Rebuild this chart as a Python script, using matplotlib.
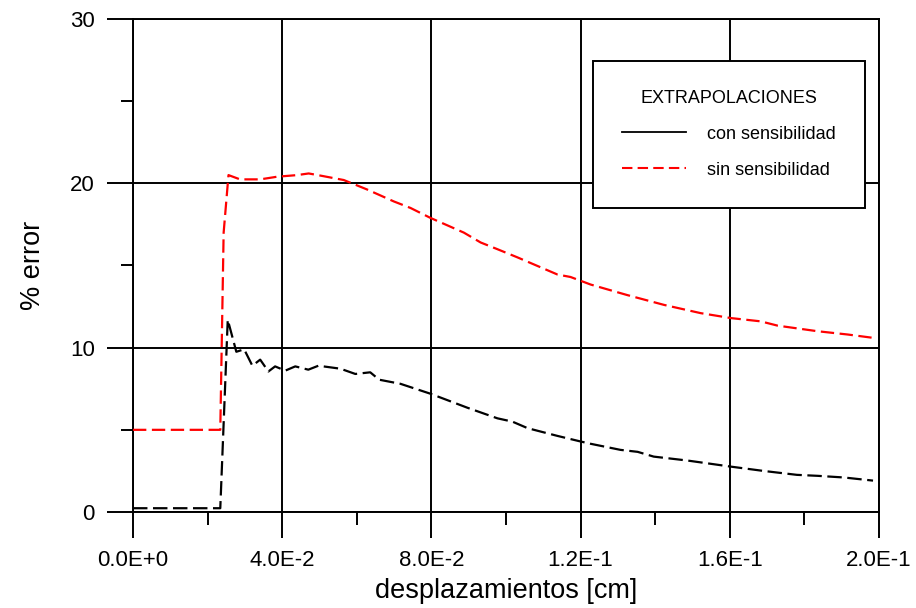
import numpy as np
import matplotlib
matplotlib.use("Agg")
import matplotlib.pyplot as plt
from matplotlib.lines import Line2D

plt.rcParams['font.family'] = ['Liberation Sans', 'DejaVu Sans']

# datos
x_con = [0.0, 0.0234, 0.0254, 0.0277, 0.0298, 0.0320, 0.0341, 0.0363, 0.0381,
         0.0408, 0.0435, 0.0470, 0.0497, 0.0556, 0.0596, 0.0636, 0.0660, 0.0717,
         0.0797, 0.0897, 0.0977, 0.1017, 0.1058, 0.1138, 0.1200, 0.1227, 0.1307,
         0.1353, 0.1396, 0.1487, 0.1603, 0.1690, 0.1780, 0.1836, 0.1906, 0.1984]
y_con = [0.23, 0.23, 11.7, 9.75, 9.9, 8.9, 9.27, 8.55, 8.86,
         8.6, 8.86, 8.66, 8.9, 8.72, 8.4, 8.5, 8.05, 7.8,
         7.2, 6.34, 5.7, 5.5, 5.1, 4.63, 4.29, 4.15, 3.78,
         3.66, 3.37, 3.13, 2.76, 2.5, 2.26, 2.2, 2.1, 1.91]

x_sin = [0.0, 0.0234, 0.0243, 0.0256, 0.0287, 0.0341, 0.0386, 0.0440, 0.0471,
         0.0507, 0.0565, 0.0627, 0.0699, 0.0744, 0.0797, 0.0887, 0.0932, 0.0976,
         0.1030, 0.1138, 0.1173, 0.1227, 0.1325, 0.1424, 0.1522, 0.1603, 0.1683,
         0.1728, 0.1835, 0.1916, 0.1983]
y_sin = [5.0, 5.0, 17.0, 20.5, 20.24, 20.24, 20.4, 20.5, 20.6,
         20.45, 20.2, 19.63, 18.9, 18.5, 17.9, 17.0, 16.4, 16.0,
         15.5, 14.45, 14.3, 13.84, 13.2, 12.6, 12.1, 11.8, 11.6,
         11.34, 11.0, 10.8, 10.6]

xticks = [0.0, 0.04, 0.08, 0.12, 0.16, 0.20]
xticklabels = ['0.0E+0', '4.0E-2', '8.0E-2', '1.2E-1', '1.6E-1', '2.0E-1']
yticks = [0, 10, 20, 30]

fig = plt.figure(figsize=(9.16, 6.08), dpi=100)
ax = fig.add_axes([0.1452, 0.1579, 0.8144, 0.8109])

ax.plot(x_con, y_con, color='black', lw=1.6, linestyle=(0, (6.5, 2.5)), zorder=3)
ax.plot(x_sin, y_sin, color='red', lw=1.6, linestyle=(0, (6.0, 2.5)), zorder=3)

ax.set_xlim(0, 0.2)
ax.set_ylim(0, 30)
ax.set_xticks(xticks)
ax.set_xticklabels(xticklabels)
ax.set_xticks(np.arange(0.02, 0.2, 0.04), minor=True)
ax.set_yticks(yticks)
ax.set_yticks([5, 15, 25], minor=True)

ax.grid(True, which='major', color='black', lw=1.4)
for s in ax.spines.values():
    s.set_linewidth(1.4)
ax.tick_params(which='major', direction='out', length=18.5, width=1.4, labelsize=16)
ax.tick_params(which='minor', direction='out', length=9, width=1.4)
ax.tick_params(axis='x', which='major', pad=9)
ax.tick_params(axis='y', which='major', pad=9)

ax.set_xlabel('desplazamientos [cm]', fontsize=19.5, labelpad=5)
ax.set_ylabel('% error', fontsize=19.5, labelpad=17)

handles = [Line2D([], [], color='black', lw=1.3),
           Line2D([], [], color='red', lw=1.5, linestyle=(0, (5, 2.5)))]
leg = ax.legend(handles, ['con sensibilidad', 'sin sensibilidad'],
                title='EXTRAPOLACIONES', loc='upper right',
                bbox_to_anchor=(0.981, 0.915), fontsize=13, title_fontsize=13,
                frameon=True, fancybox=False, shadow=False, framealpha=1,
                edgecolor='black', borderpad=1.6, labelspacing=1.05,
                handlelength=3.5, handletextpad=1.2, borderaxespad=0)
leg.get_frame().set_linewidth(1.4)

fig.savefig('out.png', dpi=100)
